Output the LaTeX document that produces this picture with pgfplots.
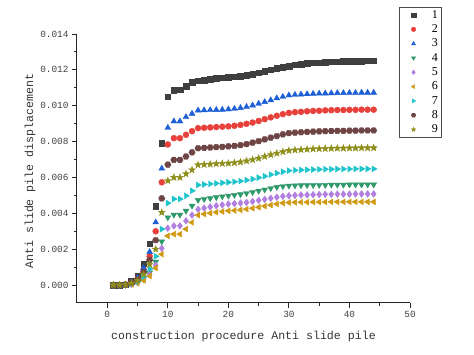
\documentclass[border=0pt]{standalone}
\usepackage{fontspec}
\setmainfont{Liberation Mono}
\newfontfamily\legfont{Liberation Serif}
\usepackage{pgfplots}
\pgfplotsset{compat=1.18}
\usepackage{pgfplotstable}

\pgfdeclareplotmark{hexagon*}{%
  \pgfpathmoveto{\pgfpointpolar{0}{\pgfplotmarksize}}%
  \pgfpathlineto{\pgfpointpolar{60}{\pgfplotmarksize}}%
  \pgfpathlineto{\pgfpointpolar{120}{\pgfplotmarksize}}%
  \pgfpathlineto{\pgfpointpolar{180}{\pgfplotmarksize}}%
  \pgfpathlineto{\pgfpointpolar{240}{\pgfplotmarksize}}%
  \pgfpathlineto{\pgfpointpolar{300}{\pgfplotmarksize}}%
  \pgfpathclose\pgfusepathqfillstroke}
\pgfdeclareplotmark{fstar*}{%
  \pgfpathmoveto{\pgfpointpolar{90}{\pgfplotmarksize}}%
  \pgfpathlineto{\pgfpointpolar{126}{0.42\pgfplotmarksize}}%
  \pgfpathlineto{\pgfpointpolar{162}{\pgfplotmarksize}}%
  \pgfpathlineto{\pgfpointpolar{198}{0.42\pgfplotmarksize}}%
  \pgfpathlineto{\pgfpointpolar{234}{\pgfplotmarksize}}%
  \pgfpathlineto{\pgfpointpolar{270}{0.42\pgfplotmarksize}}%
  \pgfpathlineto{\pgfpointpolar{306}{\pgfplotmarksize}}%
  \pgfpathlineto{\pgfpointpolar{342}{0.42\pgfplotmarksize}}%
  \pgfpathlineto{\pgfpointpolar{18}{\pgfplotmarksize}}%
  \pgfpathlineto{\pgfpointpolar{54}{0.42\pgfplotmarksize}}%
  \pgfpathclose\pgfusepathqfillstroke}

\pgfplotsset{myleg/.style={legend image code/.code={%
  \path (0pt,-2pt) (29pt,2pt);
  \draw[##1] plot coordinates {(13pt,0pt)};}}}

\definecolor{c1}{HTML}{3F3F3F}
\definecolor{c2}{HTML}{E8413C}
\definecolor{c3}{HTML}{1C5FD6}
\definecolor{c4}{HTML}{2E9A6A}
\definecolor{c5}{HTML}{B07FE0}
\definecolor{c6}{HTML}{D09A14}
\definecolor{c7}{HTML}{1EC4CC}
\definecolor{c8}{HTML}{6E4444}
\definecolor{c9}{HTML}{8E8E1A}

\pgfplotstableread{
x s1 s2 s3 s4 s5 s6 s7 s8 s9
1 0.00000 0.00000 0.00000 0.00000 0.00000 0.00000 0.00000 0.00000 0.00000
2 0.00000 0.00000 0.00000 0.00000 0.00000 0.00000 0.00000 0.00000 0.00000
3 0.00003 0.00002 0.00002 0.00001 0.00001 0.00001 0.00001 0.00002 0.00002
4 0.00020 0.00014 0.00016 0.00006 0.00005 0.00004 0.00008 0.00012 0.00010
5 0.00050 0.00036 0.00040 0.00016 0.00013 0.00011 0.00020 0.00030 0.00025
6 0.00120 0.00087 0.00095 0.00037 0.00031 0.00026 0.00047 0.00073 0.00060
7 0.00230 0.00160 0.00185 0.00070 0.00060 0.00050 0.00090 0.00140 0.00115
8 0.00440 0.00300 0.00350 0.00130 0.00110 0.00095 0.00160 0.00250 0.00200
9 0.00790 0.00573 0.00650 0.00243 0.00205 0.00172 0.00312 0.00483 0.00405
10 0.01050 0.00784 0.00877 0.00377 0.00317 0.00274 0.00457 0.00672 0.00582
11 0.01085 0.00819 0.00913 0.00392 0.00330 0.00284 0.00480 0.00698 0.00600
12 0.01090 0.00819 0.00913 0.00392 0.00330 0.00284 0.00480 0.00698 0.00600
13 0.01110 0.00838 0.00937 0.00414 0.00358 0.00312 0.00498 0.00717 0.00620
14 0.01130 0.00858 0.00956 0.00442 0.00390 0.00349 0.00526 0.00740 0.00642
15 0.01140 0.00875 0.00974 0.00474 0.00422 0.00390 0.00558 0.00763 0.00670
16 0.01144 0.00877 0.00975 0.00479 0.00429 0.00396 0.00561 0.00765 0.00672
17 0.01148 0.00879 0.00976 0.00484 0.00436 0.00401 0.00564 0.00767 0.00674
18 0.01152 0.00881 0.00977 0.00489 0.00442 0.00406 0.00567 0.00769 0.00676
19 0.01156 0.00883 0.00978 0.00494 0.00447 0.00410 0.00570 0.00771 0.00678
20 0.01160 0.00885 0.00980 0.00498 0.00452 0.00414 0.00573 0.00773 0.00679
21 0.01162 0.00888 0.00983 0.00502 0.00454 0.00416 0.00576 0.00776 0.00682
22 0.01166 0.00893 0.00988 0.00506 0.00457 0.00419 0.00580 0.00780 0.00686
23 0.01171 0.00899 0.00994 0.00512 0.00461 0.00423 0.00585 0.00786 0.00692
24 0.01177 0.00906 0.01002 0.00518 0.00466 0.00428 0.00591 0.00794 0.00699
25 0.01185 0.00915 0.01011 0.00525 0.00472 0.00434 0.00599 0.00803 0.00707
26 0.01193 0.00925 0.01021 0.00532 0.00478 0.00440 0.00607 0.00812 0.00717
27 0.01201 0.00935 0.01031 0.00540 0.00484 0.00446 0.00616 0.00822 0.00727
28 0.01209 0.00944 0.01042 0.00546 0.00490 0.00452 0.00624 0.00831 0.00735
29 0.01216 0.00953 0.01050 0.00551 0.00495 0.00457 0.00632 0.00840 0.00743
30 0.01222 0.00960 0.01058 0.00554 0.00498 0.00460 0.00638 0.00847 0.00750
31 0.01228 0.00964 0.01061 0.00555 0.00500 0.00461 0.00640 0.00850 0.00753
32 0.01232 0.00966 0.01063 0.00556 0.00502 0.00462 0.00642 0.00852 0.00755
33 0.01236 0.00969 0.01065 0.00557 0.00503 0.00462 0.00643 0.00854 0.00757
34 0.01239 0.00971 0.01067 0.00557 0.00504 0.00463 0.00644 0.00856 0.00759
35 0.01241 0.00972 0.01068 0.00558 0.00505 0.00463 0.00645 0.00857 0.00760
36 0.01243 0.00974 0.01069 0.00558 0.00506 0.00463 0.00646 0.00858 0.00761
37 0.01245 0.00975 0.01070 0.00559 0.00506 0.00464 0.00646 0.00859 0.00762
38 0.01246 0.00976 0.01071 0.00559 0.00507 0.00464 0.00647 0.00860 0.00763
39 0.01247 0.00976 0.01071 0.00559 0.00507 0.00464 0.00647 0.00860 0.00763
40 0.01248 0.00977 0.01072 0.00560 0.00507 0.00464 0.00647 0.00861 0.00764
41 0.01249 0.00977 0.01072 0.00560 0.00508 0.00464 0.00648 0.00861 0.00764
42 0.01249 0.00978 0.01073 0.00560 0.00508 0.00464 0.00648 0.00862 0.00765
43 0.01250 0.00978 0.01073 0.00560 0.00508 0.00464 0.00648 0.00862 0.00765
44 0.01250 0.00978 0.01073 0.00560 0.00508 0.00464 0.00648 0.00862 0.00765
}\datatable

\begin{document}
\begin{tikzpicture}
\useasboundingbox (0,0) rectangle (474pt,355pt);
\begin{axis}[
  at={(77pt,52pt)}, anchor=south west,
  scale only axis, width=333pt, height=269pt,
  xmin=-5, xmax=50, ymin=-0.001, ymax=0.014,
  axis lines=left,
  axis line style={-, line width=1pt, black!85},
  xtick={0,10,20,30,40,50},
  ytick={0,0.002,0.004,0.006,0.008,0.010,0.012,0.014},
  minor x tick num=1, minor y tick num=1,
  tick align=outside,
  major tick length=5pt, minor tick length=3pt,
  tick style={line width=0.9pt, black!85},
  scaled y ticks=false,
  yticklabel style={/pgf/number format/.cd, fixed, fixed zerofill, precision=3},
  /pgf/number format/assume math mode=true,
  tick label style={font=\fontsize{9.4}{11}\selectfont, text=black!75},
  label style={font=\fontsize{11.6}{13}\selectfont, text=black!80},
  xlabel={construction procedure Anti slide pile},
  ylabel={Anti slide pile displacement},
  xlabel style={at={(axis description cs:0.5,-0.125)}, anchor=center},
  ylabel style={at={(axis description cs:-0.141,0.49)}, anchor=center},
  legend style={at={(1.093,1.100)}, anchor=north east, draw=black!70,
    font=\legfont\fontsize{12}{13.6}\selectfont, row sep=0.9pt, inner sep=1pt,
    nodes={inner xsep=2pt}},
  legend cell align=left,
  legend image post style={mark size=2.3pt},
  every axis plot/.append style={only marks, mark size=3pt},
]
\addplot[c1, mark=square*, mark size=2.8pt, myleg] table[x=x,y=s1]{\datatable};
\addlegendentry{1}
\addplot[c2, mark=*, myleg] table[x=x,y=s2]{\datatable};
\addlegendentry{2}
\addplot[c3, mark=triangle*, mark size=3.4pt, myleg] table[x=x,y=s3]{\datatable};
\addlegendentry{3}
\addplot[c4, mark=triangle*, mark size=3.4pt, mark options={rotate=180}, myleg] table[x=x,y=s4]{\datatable};
\addlegendentry{4}
\addplot[c5, mark=diamond*, mark size=3.4pt, myleg] table[x=x,y=s5]{\datatable};
\addlegendentry{5}
\addplot[c6, mark=triangle*, mark size=3.4pt, mark options={rotate=90}, myleg] table[x=x,y=s6]{\datatable};
\addlegendentry{6}
\addplot[c7, mark=triangle*, mark size=3.4pt, mark options={rotate=-90}, myleg] table[x=x,y=s7]{\datatable};
\addlegendentry{7}
\addplot[c8, mark=hexagon*, mark size=3.2pt, myleg] table[x=x,y=s8]{\datatable};
\addlegendentry{8}
\addplot[c9, mark=fstar*, mark size=3.6pt, myleg] table[x=x,y=s9]{\datatable};
\addlegendentry{9}
\end{axis}
\end{tikzpicture}
\end{document}
